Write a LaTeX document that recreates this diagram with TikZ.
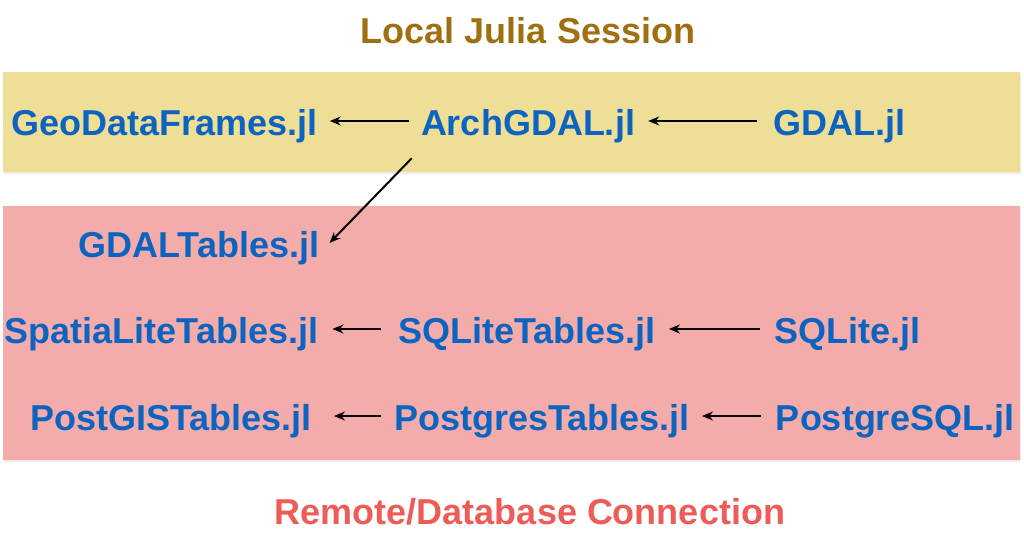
\documentclass[tikz,border=0pt]{standalone}
\usepackage{fontspec}
\setmainfont{Liberation Sans}
\usetikzlibrary{arrows.meta,shadows}
\definecolor{boxyellow}{RGB}{239,223,150}
\definecolor{boxpink}{RGB}{244,172,170}
\definecolor{pkgblue}{RGB}{12,100,192}
\definecolor{titlegold}{RGB}{160,112,16}
\definecolor{titlered}{RGB}{238,92,88}
\tikzset{
  pkg/.style={inner sep=0pt, anchor=base, text height=28pt, text depth=0pt,
    text=pkgblue, font=\fontsize{36}{40}\selectfont\bfseries},
  ttl/.style={inner sep=0pt, anchor=base, font=\fontsize{36}{40}\selectfont\bfseries},
  arr/.style={-{Stealth[length=11pt,width=9pt]}, line width=2pt, black},
  region/.style={draw=none, drop shadow={shadow xshift=1pt, shadow yshift=-2pt, opacity=0.15}}
}
\begin{document}
\begin{tikzpicture}[x=1pt,y=-1pt]
\useasboundingbox[fill=white] (0,0) rectangle (1024,546);
\fill[boxyellow, region] (3,72) rectangle (1020,172);
\fill[boxpink, region] (3,206) rectangle (1020,460);

\node[ttl, text=titlegold] (local) at (528,43) {Local Julia Session};
\node[ttl, text=titlered] (remote) at (530,524) {Remote/Database Connection};

\node[pkg] (geodf) at (164.5,135) {GeoDataFrames.jl};
\node[pkg] (archgdal) at (528,135) {ArchGDAL.jl};
\node[pkg] (gdal) at (839,135) {GDAL.jl};
\node[pkg] (gdaltables) at (199,257) {GDALTables.jl};
\node[pkg] (spatialite) at (161.5,343) {SpatiaLiteTables.jl};
\node[pkg] (sqlitetables) at (527,343) {SQLiteTables.jl};
\node[pkg] (sqlite) at (847.5,343) {SQLite.jl};
\node[pkg] (postgis) at (171,430) {PostGISTables.jl};
\node[pkg] (postgrestables) at (542,430) {PostgresTables.jl};
\node[pkg] (postgresql) at (895,430) {PostgreSQL.jl};

\draw[arr] ([xshift=-12pt]archgdal.west) -- ([xshift=12pt]geodf.east);
\draw[arr] ([xshift=-16pt]gdal.west) -- ([xshift=13pt]archgdal.east);
\draw[arr] ([xshift=-9pt,yshift=-23pt]archgdal.south west) -- ([xshift=10pt]gdaltables.east);
\draw[arr] ([xshift=-17pt]sqlitetables.west) -- ([xshift=14pt]spatialite.east);
\draw[arr] ([xshift=-14pt]sqlite.west) -- ([xshift=13pt]sqlitetables.east);
\draw[arr] ([xshift=-13pt]postgrestables.west) -- ([xshift=22pt]postgis.east);
\draw[arr] ([xshift=-15pt]postgresql.west) -- ([xshift=12pt]postgrestables.east);
\end{tikzpicture}
\end{document}
